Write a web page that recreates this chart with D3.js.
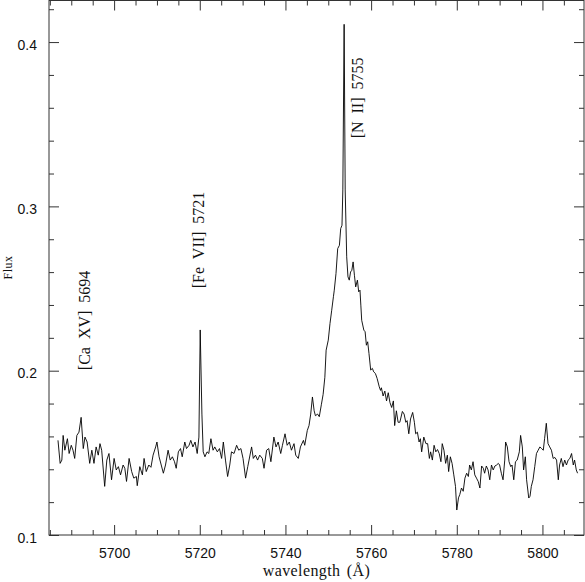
<!DOCTYPE html>
<html>
<head>
<meta charset="utf-8">
<script src="https://cdn.jsdelivr.net/npm/d3@7/dist/d3.min.js"></script>
<style>
  html, body { margin: 0; padding: 0; background: #fff; }
  svg { display: block; }
  .tick-label { font-family: "Liberation Sans", Arial, sans-serif; font-size: 14px; fill: #111; }
  .serif { font-family: "Liberation Serif", "Times New Roman", serif; fill: #111; }
</style>
</head>
<body>
<svg id="chart" width="585" height="582"></svg>
<script>
// ----------------------------------------------------------------------------
// Data
// ----------------------------------------------------------------------------

// Wavelength in Angstrom.
var wave = [
  5686.9, 5687.4, 5687.8, 5688.1, 5688.5, 5689.1, 5689.5, 5690.0, 5690.4, 5690.8,
  5691.3, 5691.8, 5692.3, 5692.8, 5693.2, 5693.7, 5694.3, 5694.8, 5695.3, 5695.8,
  5696.3, 5696.7, 5697.1, 5697.8, 5698.3, 5698.8, 5699.4, 5700.0, 5700.5, 5701.0,
  5701.5, 5702.1, 5702.5, 5702.9, 5703.5, 5704.1, 5704.6, 5705.2, 5705.4, 5706.0,
  5706.6, 5707.0, 5707.5, 5708.1, 5708.6, 5709.1, 5709.7, 5710.0, 5710.5, 5711.0,
  5711.5, 5712.0, 5712.6, 5713.1, 5713.6, 5714.1, 5714.5, 5715.0, 5715.5, 5715.9,
  5716.5, 5716.9, 5717.5, 5717.9, 5718.4, 5718.9, 5719.4, 5719.8, 5720.1, 5720.5,
  5720.8, 5721.2, 5721.7, 5722.1, 5722.6, 5723.1, 5723.5, 5724.1, 5724.6, 5725.1,
  5725.5, 5726.0, 5726.5, 5727.0, 5727.4, 5728.0, 5728.6, 5729.1, 5729.6, 5730.1,
  5730.7, 5731.2, 5731.5, 5732.1, 5732.5, 5733.0, 5733.5, 5734.0, 5734.6, 5735.0,
  5735.6, 5736.1, 5736.6, 5737.3, 5737.8, 5738.3, 5738.9, 5739.3, 5739.9, 5740.4,
  5740.9, 5741.4, 5742.0, 5742.4, 5743.0, 5743.5, 5744.2, 5744.5, 5745.1, 5745.5,
  5745.9, 5746.3, 5746.7, 5747.0, 5747.5, 5747.9, 5748.4, 5748.8, 5749.2, 5749.5,
  5750.0, 5750.4, 5750.8, 5751.2, 5751.4, 5751.8, 5752.2, 5752.6, 5752.9, 5753.2,
  5753.4, 5753.7, 5753.95, 5754.3, 5754.6, 5754.9, 5755.2, 5755.5, 5755.8, 5756.1,
  5756.4, 5756.8, 5757.1, 5757.4, 5757.6, 5757.8, 5758.3, 5758.6, 5758.9, 5759.2,
  5759.5, 5759.9, 5760.3, 5760.6, 5761.0, 5761.4, 5761.9, 5762.2, 5762.4, 5762.8,
  5763.2, 5763.6, 5764.0, 5764.4, 5764.8, 5765.2, 5765.5, 5765.9, 5766.3, 5766.7,
  5767.3, 5767.7, 5768.1, 5768.4, 5768.8, 5769.2, 5769.7, 5770.1, 5770.4, 5770.8,
  5771.2, 5771.5, 5771.8, 5772.3, 5772.8, 5773.2, 5773.6, 5773.9, 5774.3, 5774.7,
  5775.1, 5775.5, 5775.9, 5776.3, 5776.6, 5777.0, 5777.4, 5777.8, 5778.1, 5778.5,
  5778.9, 5779.3, 5779.7, 5780.0, 5780.4, 5780.7, 5781.1, 5781.5, 5781.9, 5782.3,
  5782.7, 5783.0, 5783.4, 5783.8, 5784.2, 5784.6, 5785.0, 5785.4, 5785.8, 5786.2,
  5786.5, 5786.9, 5787.3, 5787.7, 5788.1, 5788.5, 5788.9, 5789.3, 5789.7, 5790.0,
  5790.4, 5790.8, 5791.2, 5791.4, 5791.8, 5792.2, 5792.6, 5792.9, 5793.3, 5793.7,
  5794.1, 5794.6, 5794.9, 5795.3, 5795.6, 5796.0, 5796.3, 5796.8, 5797.1, 5797.4,
  5797.8, 5798.2, 5798.6, 5799.0, 5799.4, 5799.8, 5800.2, 5800.5, 5800.9, 5801.3,
  5801.7, 5802.1, 5802.5, 5802.9, 5803.3, 5803.7, 5804.0, 5804.4, 5804.8, 5805.2,
  5805.6, 5806.0, 5806.4, 5806.8, 5807.2, 5807.5, 5807.9, 5808.2
];

// Flux, same order as wave.
var flux = [
  0.1576, 0.1436, 0.1456, 0.1606, 0.1516, 0.1586, 0.1496, 0.1546, 0.1516, 0.1466,
  0.1606, 0.1626, 0.1716, 0.1526, 0.1596, 0.1566, 0.1436, 0.1516, 0.1436, 0.1536,
  0.1486, 0.1556, 0.1516, 0.1296, 0.1456, 0.1496, 0.1336, 0.1466, 0.1396, 0.1416,
  0.1366, 0.1426, 0.1406, 0.1326, 0.1466, 0.1386, 0.1346, 0.1356, 0.1300, 0.1416,
  0.1366, 0.1466, 0.1386, 0.1426, 0.1412, 0.1486, 0.1536, 0.1566, 0.1476, 0.1426,
  0.1376, 0.1426, 0.1516, 0.1456, 0.1476, 0.1446, 0.1406, 0.1506, 0.1526, 0.1476,
  0.1566, 0.1526, 0.1546, 0.1576, 0.1536, 0.1566, 0.1496, 0.1596, 0.2248, 0.1736,
  0.1506, 0.1476, 0.1506, 0.1496, 0.1586, 0.1516, 0.1536, 0.1506, 0.1526, 0.1466,
  0.1566, 0.1456, 0.1356, 0.1426, 0.1506, 0.1496, 0.1546, 0.1516, 0.1526, 0.1466,
  0.1346, 0.1416, 0.1456, 0.1536, 0.1466, 0.1486, 0.1456, 0.1486, 0.1466, 0.1406,
  0.1516, 0.1526, 0.1446, 0.1596, 0.1536, 0.1566, 0.1496, 0.1546, 0.1616, 0.1546,
  0.1566, 0.1516, 0.1556, 0.1486, 0.1466, 0.1536, 0.1576, 0.1546, 0.1636, 0.1666,
  0.1736, 0.1840, 0.1756, 0.1726, 0.1736, 0.1720, 0.1796, 0.1856, 0.1960, 0.2125,
  0.2186, 0.2287, 0.2368, 0.2450, 0.2490, 0.2591, 0.2743, 0.2763, 0.2865, 0.2885,
  0.3100, 0.4108, 0.3100, 0.2693, 0.2571, 0.2551, 0.2601, 0.2611, 0.2662, 0.2581,
  0.2510, 0.2551, 0.2480, 0.2490, 0.2399, 0.2307, 0.2247, 0.2237, 0.2155, 0.2176,
  0.2105, 0.2004, 0.2014, 0.1993, 0.1983, 0.1953, 0.1902, 0.1880, 0.1896, 0.1846,
  0.1876, 0.1816, 0.1866, 0.1806, 0.1776, 0.1816, 0.1666, 0.1756, 0.1686, 0.1686,
  0.1752, 0.1736, 0.1686, 0.1696, 0.1616, 0.1706, 0.1746, 0.1686, 0.1616, 0.1626,
  0.1566, 0.1586, 0.1506, 0.1596, 0.1556, 0.1556, 0.1466, 0.1506, 0.1456, 0.1546,
  0.1506, 0.1520, 0.1496, 0.1446, 0.1556, 0.1516, 0.1436, 0.1486, 0.1386, 0.1476,
  0.1436, 0.1366, 0.1296, 0.1152, 0.1226, 0.1246, 0.1286, 0.1266, 0.1346, 0.1376,
  0.1356, 0.1426, 0.1396, 0.1446, 0.1366, 0.1346, 0.1326, 0.1286, 0.1420, 0.1406,
  0.1376, 0.1420, 0.1396, 0.1336, 0.1426, 0.1396, 0.1420, 0.1426, 0.1436, 0.1426,
  0.1376, 0.1336, 0.1456, 0.1566, 0.1536, 0.1446, 0.1416, 0.1426, 0.1336, 0.1446,
  0.1456, 0.1506, 0.1606, 0.1536, 0.1396, 0.1476, 0.1336, 0.1225, 0.1236, 0.1296,
  0.1336, 0.1416, 0.1496, 0.1516, 0.1536, 0.1526, 0.1516, 0.1586, 0.1680, 0.1556,
  0.1536, 0.1516, 0.1466, 0.1472, 0.1456, 0.1336, 0.1426, 0.1466, 0.1416, 0.1456,
  0.1426, 0.1456, 0.1466, 0.1496, 0.1426, 0.1456, 0.1396, 0.1376
];

// Axis limits and ticks.
var xDomain = [5684.8, 5809.7];
var yDomain = [0.1, 0.4253];
var xMajorTicks = [5700, 5720, 5740, 5760, 5780, 5800];
var yMajorTicks = [0.1, 0.2, 0.3, 0.4];

// Line identifications: label text, anchor wavelength, anchor flux.
var lineLabels = ["[Ca XV] 5694", "[Fe VII] 5721", "[N II] 5755"];
var lineWave = [5694.3, 5721.0, 5758.0];
var lineFlux = [0.2003, 0.2502, 0.3414];


// ----------------------------------------------------------------------------
// Drawing
// ----------------------------------------------------------------------------

var svg = d3.select("#chart");
var padLeft = 49, padRight = 584, padTop = 0.5, padBottom = 535;

var x = d3.scaleLinear().domain(xDomain).range([padLeft, padRight]);
var y = d3.scaleLinear().domain(yDomain).range([padBottom, padTop]);

var xMinor = d3.range(5685, 5810, 5).filter(function(v) { return v % 20 !== 0; });
var yMinor = d3.range(0.1, 0.43, 0.02).map(function(v) { return +v.toFixed(2); })
    .filter(function(v) { return Math.abs(v * 10 - Math.round(v * 10)) > 1e-6; });

// Draw inward ticks on one side with a d3 axis.
function tickAxis(maker, scale, values, size, fmt, transform) {
    var g = svg.append("g")
        .attr("transform", transform)
        .call(maker(scale).tickValues(values).tickSizeInner(-size).tickSizeOuter(0)
              .tickPadding(fmt ? 13 : 0)
              .tickFormat(fmt ? d3.format(fmt) : function() { return ""; }));
    g.select(".domain").remove();
    g.selectAll(".tick line").attr("stroke", "#333").attr("stroke-width", 1);
    g.attr("font-size", null).attr("font-family", null);
    g.selectAll(".tick text").attr("class", "tick-label");
    return g;
}

// bottom / top
tickAxis(d3.axisBottom, x, xMajorTicks, 10, "d", "translate(0," + padBottom + ")");
tickAxis(d3.axisBottom, x, xMinor, 5, null, "translate(0," + padBottom + ")");
tickAxis(d3.axisTop, x, xMajorTicks, 10, null, "translate(0," + padTop + ")");
tickAxis(d3.axisTop, x, xMinor, 5, null, "translate(0," + padTop + ")");

// left / right
var yl = tickAxis(d3.axisLeft, y, yMajorTicks, 10, ".1f", "translate(" + padLeft + ",0)");
yl.selectAll(".tick text").attr("dy", "0.5em").attr("x", -12);
tickAxis(d3.axisLeft, y, yMinor, 5, null, "translate(" + padLeft + ",0)");
tickAxis(d3.axisRight, y, yMajorTicks, 10, null, "translate(" + padRight + ",0)");
tickAxis(d3.axisRight, y, yMinor, 5, null, "translate(" + padRight + ",0)");

// frame
svg.append("rect")
    .attr("x", padLeft).attr("y", padTop)
    .attr("width", padRight - padLeft).attr("height", padBottom - padTop)
    .attr("fill", "none").attr("stroke", "#333").attr("stroke-width", 1);

// spectrum
var spectrum = d3.line()
    .x(function(d, i) { return x(wave[i]); })
    .y(function(d) { return y(d); });

svg.append("path")
    .datum(flux)
    .attr("d", spectrum)
    .attr("fill", "none")
    .attr("stroke", "#000")
    .attr("stroke-width", 0.9);

// line identifications, vertical
lineLabels.forEach(function(t, i) {
    var px = x(lineWave[i]), py = y(lineFlux[i]);
    svg.append("text")
        .attr("class", "serif")
        .attr("font-size", 16)
        .attr("word-spacing", 4)
        .attr("transform", "translate(" + px + "," + py + ") rotate(-90)")
        .text(t);
});

// axis titles
svg.append("text")
    .attr("class", "serif")
    .attr("font-size", 16)
    .attr("letter-spacing", 0.4)
    .attr("word-spacing", 2)
    .attr("text-anchor", "middle")
    .attr("x", (padLeft + padRight) / 2)
    .attr("y", 576)
    .text("wavelength (Å)");

svg.append("text")
    .attr("class", "serif")
    .attr("font-size", 12)
    .attr("letter-spacing", 0.5)
    .attr("text-anchor", "middle")
    .attr("transform", "translate(12," + (padBottom / 2) + ") rotate(-90)")
    .text("Flux");
</script>
</body>
</html>
